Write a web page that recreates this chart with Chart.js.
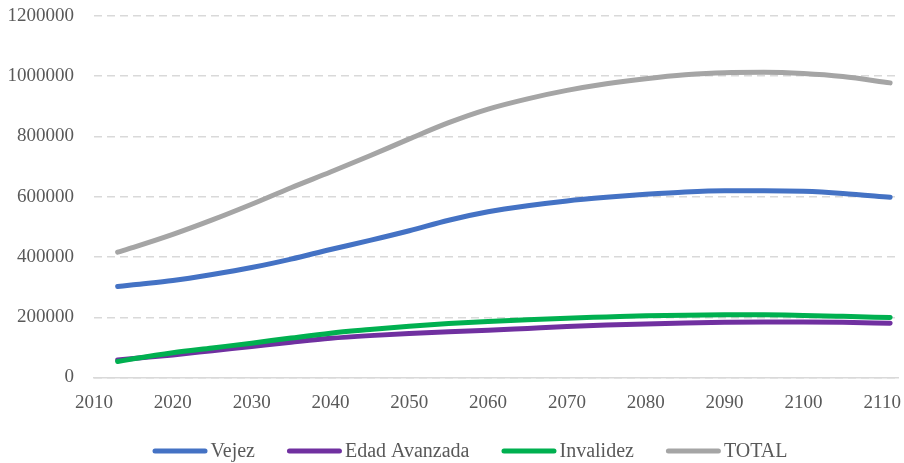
<!DOCTYPE html>
<html>
<head>
<meta charset="utf-8">
<script src="https://cdn.jsdelivr.net/npm/chart.js@4/dist/chart.umd.min.js"></script>
<style>
  html, body { margin: 0; padding: 0; background: #ffffff; }
  #wrap { width: 904px; height: 463px; position: relative; }
</style>
</head>
<body>
<div id="wrap"><canvas id="chart"></canvas></div>
<script>
// Projected number of pensions by type, 2013-2111
const years = [2013, 2015, 2020, 2025, 2030, 2035, 2040, 2045, 2050, 2055, 2060,
               2065, 2070, 2075, 2080, 2085, 2090, 2095, 2100, 2105, 2111];

const vejez = [302000, 308000, 322000, 342000, 365000, 393000, 425000, 455000, 487000, 522000, 550000,
               570000, 586000, 598000, 608000, 616000, 620000, 620000, 618000, 611000, 598000];

const edadAvanzada = [58000, 63000, 75000, 89000, 103000, 117000, 130000, 139000, 146000, 152000, 157000,
                      163000, 169000, 174000, 178000, 181000, 183000, 184000, 184000, 183000, 180000];

const invalidez = [53000, 62000, 82000, 98000, 114000, 131000, 147000, 159000, 170000, 179000, 186000,
                   192000, 197000, 201000, 205000, 207000, 208000, 208000, 206000, 203000, 199000];

const total = [416000, 432000, 475000, 523000, 575000, 630000, 682000, 736000, 792000, 846000, 891000,
               925000, 953000, 975000, 992000, 1005000, 1012000, 1013000, 1009000, 999000, 978000];

// Axis tick labels
const xTicks = [2010, 2020, 2030, 2040, 2050, 2060, 2070, 2080, 2090, 2100, 2110];
const yTicks = [0, 200000, 400000, 600000, 800000, 1000000, 1200000];

const seriesNames = ['Vejez', 'Edad Avanzada', 'Invalidez', 'TOTAL'];
const seriesColors = ['#4472C4', '#7030A0', '#00B050', '#A5A5A5'];
const seriesValues = [vejez, edadAvanzada, invalidez, total];
const drawOrder = [2, 1, 0, 3];

const FONT = '"Liberation Serif", "Times New Roman", serif';
const TEXT_COLOR = '#595959';

const toPoints = vals => vals.map((v, i) => ({ x: years[i], y: v }));

const datasets = seriesNames.map((name, i) => ({
  label: name,
  data: toPoints(seriesValues[i]),
  borderColor: seriesColors[i],
  backgroundColor: seriesColors[i],
  borderWidth: 5,
  borderCapStyle: 'round',
  borderJoinStyle: 'round',
  pointRadius: 0,
  pointHoverRadius: 0,
  cubicInterpolationMode: 'monotone',
  fill: false,
  order: drawOrder[i]
}));

// Legend row under the axis: a short stroke followed by the series name
const seriesKey = {
  id: 'seriesKey',
  afterDraw(chart) {
    const ctx = chart.ctx;
    ctx.save();
    ctx.font = '20px ' + FONT;
    const swatch = 55, gap = 3, spacing = 32;
    const items = chart.data.datasets.map(d => ({
      label: d.label,
      color: d.borderColor,
      w: swatch + gap + ctx.measureText(d.label).width
    }));
    const width = items.reduce((s, it) => s + it.w, 0) + spacing * (items.length - 1);
    let x = 470 - width / 2;
    const y = 451;
    items.forEach(it => {
      ctx.strokeStyle = it.color;
      ctx.lineWidth = 5;
      ctx.lineCap = 'round';
      ctx.beginPath();
      ctx.moveTo(x + 2.5, y);
      ctx.lineTo(x + swatch - 2.5, y);
      ctx.stroke();
      ctx.fillStyle = TEXT_COLOR;
      ctx.textBaseline = 'middle';
      ctx.textAlign = 'left';
      ctx.fillText(it.label, x + swatch + gap, y + 1);
      x += it.w + spacing;
    });
    ctx.restore();
  }
};

new Chart(document.getElementById('chart'), {
  type: 'line',
  data: { datasets },
  options: {
    responsive: true,
    maintainAspectRatio: false,
    animation: false,
    layout: { padding: { top: 16, right: 6, left: 0, bottom: 0 } },
    plugins: {
      legend: { display: false },
      tooltip: { enabled: false }
    },
    scales: {
      x: {
        type: 'linear',
        min: 2010,
        max: 2112,
        afterBuildTicks(scale) {
          scale.ticks = xTicks.map(v => ({ value: v }));
        },
        afterFit(scale) {
          scale.height = 85.5;
          scale.paddingLeft = 0;
          scale.paddingRight = 0;
        },
        ticks: {
          padding: 14,
          maxRotation: 0,
          autoSkip: false,
          color: TEXT_COLOR,
          font: { family: FONT, size: 19 },
          callback: v => String(v)
        },
        grid: { display: false, drawTicks: false },
        border: { display: true, color: '#D9D9D9', width: 1.5 }
      },
      y: {
        min: 0,
        max: 1200000,
        afterBuildTicks(scale) {
          scale.ticks = yTicks.map(v => ({ value: v }));
        },
        afterFit(scale) {
          scale.width = 94;
          scale.paddingTop = 0;
          scale.paddingBottom = 0;
        },
        ticks: {
          padding: 20,
          color: TEXT_COLOR,
          font: { family: FONT, size: 19 },
          callback: v => String(v)
        },
        grid: {
          color: '#D9D9D9',
          lineWidth: 1.5,
          drawTicks: false
        },
        border: { display: false, dash: [8, 5] }
      }
    }
  },
  plugins: [seriesKey]
});
</script>
</body>
</html>
